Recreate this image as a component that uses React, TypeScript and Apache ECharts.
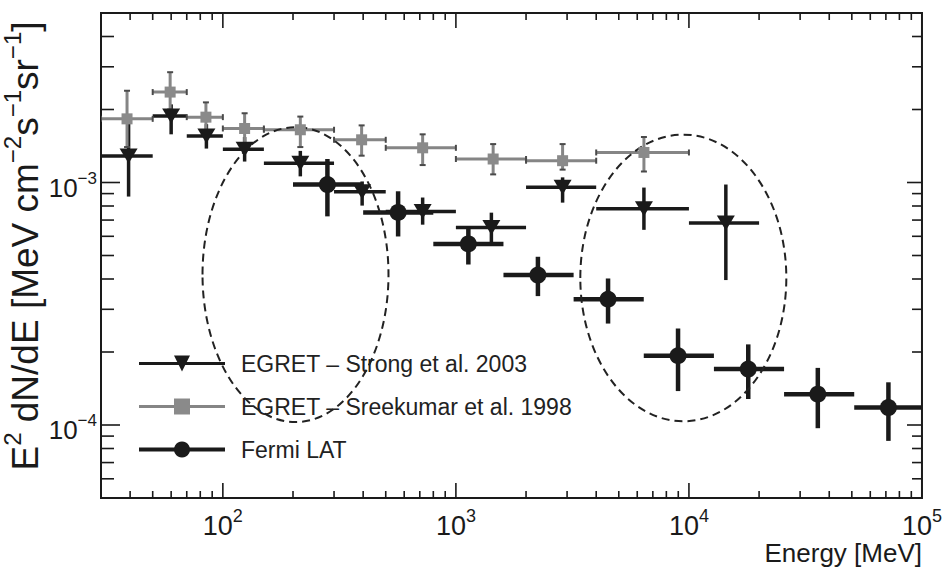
import React, { useEffect, useRef } from 'react';
import * as echarts from 'echarts';

const FONT = '"Liberation Sans", Arial, Helvetica, sans-serif';
const INK = '#1a1a1a';
const GREY = '#858585';

// EGRET – Strong et al. 2003 (MeV, MeV cm^-2 s^-1 sr^-1)
const strongE = [39.4, 60, 85, 124, 215, 396, 720, 1420, 2870, 6410, 14400];
const strongF = [1.285e-3, 1.88e-3, 1.556e-3, 1.37e-3, 1.2e-3, 9.15e-4, 7.6e-4, 6.52e-4, 9.56e-4, 7.8e-4, 6.8e-4];
const strongElo = [30, 50, 70, 100, 150, 300, 500, 1000, 2000, 4000, 10000];
const strongEhi = [50, 70, 100, 150, 300, 500, 1000, 2000, 4000, 10000, 20000];
const strongFlo = [8.75e-4, 1.58e-3, 1.38e-3, 1.22e-3, 1.06e-3, 8.03e-4, 6.7e-4, 5.53e-4, 8.26e-4, 6.38e-4, 3.96e-4];
const strongFhi = [1.85e-3, 2.1e-3, 1.74e-3, 1.54e-3, 1.35e-3, 1.01e-3, 8.67e-4, 7.51e-4, 1.05e-3, 9.53e-4, 9.81e-4];

// EGRET – Sreekumar et al. 1998
const sreeE = [38.8, 59.4, 84.6, 124, 215, 394, 720, 1445, 2870, 6410];
const sreeF = [1.83e-3, 2.36e-3, 1.86e-3, 1.67e-3, 1.65e-3, 1.5e-3, 1.39e-3, 1.25e-3, 1.23e-3, 1.33e-3];
const sreeElo = [30, 50, 70, 100, 150, 300, 500, 1000, 2000, 4000];
const sreeEhi = [50, 70, 100, 150, 300, 500, 1000, 2000, 4000, 10000];
const sreeFlo = [1.4e-3, 2.0e-3, 1.61e-3, 1.44e-3, 1.4e-3, 1.29e-3, 1.18e-3, 1.08e-3, 1.13e-3, 1.11e-3];
const sreeFhi = [2.39e-3, 2.85e-3, 2.14e-3, 1.93e-3, 1.87e-3, 1.72e-3, 1.58e-3, 1.44e-3, 1.44e-3, 1.54e-3];

// Fermi LAT
const fermiE = [281, 565, 1131, 2249, 4497, 8979, 17970, 35730, 71780];
const fermiF = [9.81e-4, 7.53e-4, 5.58e-4, 4.15e-4, 3.3e-4, 1.93e-4, 1.7e-4, 1.34e-4, 1.18e-4];
const fermiElo = [200, 400, 800, 1600, 3200, 6400, 12800, 25600, 51200];
const fermiEhi = [400, 800, 1600, 3200, 6400, 12800, 25600, 51200, 102400];
const fermiFlo = [7.25e-4, 5.99e-4, 4.59e-4, 3.4e-4, 2.62e-4, 1.38e-4, 1.28e-4, 9.7e-5, 8.6e-5];
const fermiFhi = [1.25e-3, 9.2e-4, 6.51e-4, 4.94e-4, 4.02e-4, 2.5e-4, 2.15e-4, 1.72e-4, 1.5e-4];

// dashed ellipses (centre in data units, half-axes in decades)
const ellipseCenterE = [205, 9460];
const ellipseCenterF = [4.17e-4, 4.04e-4];
const ellipseHalfWidthDec = [0.399, 0.442];
const ellipseHalfHeightDec = [0.608, 0.591];

// tick values
const xMajorTicks = [100, 1000, 10000];
const xMinorTicks = [40, 50, 60, 70, 80, 90, 200, 300, 400, 500, 600, 700, 800, 900,
  2000, 3000, 4000, 5000, 6000, 7000, 8000, 9000, 20000, 30000, 40000, 50000, 60000, 70000, 80000, 90000];
const yMajorTicks = [1e-4, 1e-3];
const yMinorTicks = [6e-5, 7e-5, 8e-5, 9e-5, 2e-4, 3e-4, 4e-4, 5e-4, 6e-4, 7e-4, 8e-4, 9e-4, 2e-3, 3e-3, 4e-3];

const NAME_STRONG = 'EGRET – Strong et al. 2003';
const NAME_SREE = 'EGRET – Sreekumar et al. 1998';
const NAME_FERMI = 'Fermi LAT';

const TRI_DOWN = 'path://M0,0 L16,0 L8,14 Z';

function rows(e: number[], f: number[], elo: number[], ehi: number[], flo: number[], fhi: number[]) {
  return e.map((v, i) => [v, f[i], elo[i], ehi[i], flo[i], fhi[i]]);
}

function powLabel(v: number) {
  const l = Math.log10(v);
  const e = Math.round(l);
  if (Math.abs(l - e) > 1e-6) return '';
  return '{b|10}{s|' + (e < 0 ? '\u2212' + -e : String(e)) + '}';
}

function errorBarSeries(name: string, data: number[][], color: string, width: number, cap: boolean) {
  return {
    type: 'custom',
    name,
    data,
    clip: true,
    z: 2,
    silent: true,
    encode: { x: [0, 2, 3], y: [1, 4, 5] },
    renderItem: (params: any, api: any) => {
      const x = api.value(0);
      const y = api.value(1);
      const a = api.coord([api.value(2), y]);
      const b = api.coord([api.value(3), y]);
      const c = api.coord([x, api.value(4)]);
      const d = api.coord([x, api.value(5)]);
      const style = { stroke: color, lineWidth: width, fill: 'none' };
      const children: any[] = [
        { type: 'line', shape: { x1: a[0], y1: a[1], x2: b[0], y2: b[1] }, style },
        { type: 'line', shape: { x1: c[0], y1: c[1], x2: d[0], y2: d[1] }, style },
      ];
      if (cap) {
        const cs = { stroke: '#4a4a4a', lineWidth: 2 };
        const h = 3;
        children.push(
          { type: 'line', shape: { x1: a[0], y1: a[1] - h, x2: a[0], y2: a[1] + h }, style: cs },
          { type: 'line', shape: { x1: b[0], y1: b[1] - h, x2: b[0], y2: b[1] + h }, style: cs },
          { type: 'line', shape: { x1: c[0] - h, y1: c[1], x2: c[0] + h, y2: c[1] }, style: cs },
          { type: 'line', shape: { x1: d[0] - h, y1: d[1], x2: d[0] + h, y2: d[1] }, style: cs },
        );
      }
      return { type: 'group', children };
    },
  };
}

function markerSeries(name: string, e: number[], f: number[], symbol: string, size: any, color: string) {
  return {
    type: 'line',
    name,
    data: e.map((v, i) => [v, f[i]]),
    symbol,
    symbolSize: size,
    showSymbol: true,
    showAllSymbol: true,
    lineStyle: { opacity: 0, width: 0 },
    itemStyle: { color, borderWidth: 0 },
    z: 5,
    silent: true,
  };
}

export default function App() {
  const ref = useRef<HTMLDivElement>(null);

  useEffect(() => {
    if (!ref.current) return;
    const chart = echarts.init(ref.current, null, { renderer: 'svg' });

    const xTickData = [
      ...xMajorTicks.map((v) => [v, 1e-3, 1]),
      ...xMinorTicks.map((v) => [v, 1e-3, 0]),
    ];
    const yTickData = [
      ...yMajorTicks.map((v) => [1000, v, 1]),
      ...yMinorTicks.map((v) => [1000, v, 0]),
    ];
    const ellipseData = ellipseCenterE.map((v, i) => [v, ellipseCenterF[i], ellipseHalfWidthDec[i], ellipseHalfHeightDec[i]]);

    const tickStyle = { stroke: INK, lineWidth: 1.6 };

    const option: any = {
      animation: false,
      backgroundColor: '#ffffff',
      textStyle: { fontFamily: FONT, color: INK },
      grid: {
        left: 101, right: 18, top: 13, bottom: 70,
        show: true, borderColor: INK, borderWidth: 2, backgroundColor: 'transparent',
      },
      xAxis: {
        type: 'log', logBase: 10, min: 30, max: 100000,
        axisLine: { show: false }, axisTick: { show: false }, splitLine: { show: false },
        axisLabel: {
          formatter: powLabel, margin: 4, color: INK,
          rich: {
            b: { fontSize: 27, fontFamily: FONT, color: INK, padding: [10, 0, 0, 0], verticalAlign: 'bottom' },
            s: { fontSize: 18, fontFamily: FONT, color: INK, padding: [5, 0, 0, 0], verticalAlign: 'top' },
          },
        },
        name: 'Energy [MeV]', nameLocation: 'end', nameGap: 0,
        nameTextStyle: { fontSize: 26, fontFamily: FONT, color: INK, align: 'right', verticalAlign: 'top', padding: [42, 0, 0, 0] },
      },
      yAxis: {
        type: 'log', logBase: 10, min: 5e-5, max: 5e-3,
        axisLine: { show: false }, axisTick: { show: false }, splitLine: { show: false },
        axisLabel: {
          formatter: powLabel, margin: 4, color: INK,
          rich: {
            b: { fontSize: 26, fontFamily: FONT, color: INK, padding: [10, 0, 0, 0], verticalAlign: 'bottom' },
            s: { fontSize: 17, fontFamily: FONT, color: INK, padding: [5, 0, 0, 0], verticalAlign: 'top' },
          },
        },
      },
      legend: {
        orient: 'vertical', left: 137, top: 352, padding: 0,
        itemWidth: 86, itemHeight: 20, itemGap: 20,
        selectedMode: false,
        textStyle: { fontSize: 23, fontFamily: FONT, color: '#222', padding: [0, 0, 0, 11] },
        data: [
          { name: NAME_STRONG, lineStyle: { width: 3, color: INK, opacity: 1 } },
          { name: NAME_SREE, lineStyle: { width: 3, color: GREY, opacity: 1 } },
          { name: NAME_FERMI, lineStyle: { width: 4, color: INK, opacity: 1 } },
        ],
      },
      graphic: [
        {
          type: 'text', x: 22, y: 246, rotation: Math.PI / 2,
          style: {
            text: '{b|E}{s|2}{b| dN/dE [MeV cm}{s|\u22122}{b|s}{s|\u22121}{b|sr}{s|\u22121}{b|]}',
            align: 'center', verticalAlign: 'middle', fill: INK,
            rich: {
              b: { fontSize: 37, fontFamily: FONT, fill: INK, padding: [6, 0, 0, 0], verticalAlign: 'bottom' },
              s: { fontSize: 24, fontFamily: FONT, fill: INK, padding: [0, 0, 0, 0], verticalAlign: 'top' },
            },
          },
        },
      ],
      series: [
        markerSeries(NAME_STRONG, strongE, strongF, TRI_DOWN, [18, 15], INK),
        markerSeries(NAME_SREE, sreeE, sreeF, 'rect', 11, '#8a8a8a'),
        markerSeries(NAME_FERMI, fermiE, fermiF, 'circle', 17, INK),
        errorBarSeries('Strong errors', rows(strongE, strongF, strongElo, strongEhi, strongFlo, strongFhi), INK, 3.5, false),
        errorBarSeries('Sreekumar errors', rows(sreeE, sreeF, sreeElo, sreeEhi, sreeFlo, sreeFhi), GREY, 3, true),
        errorBarSeries('Fermi errors', rows(fermiE, fermiF, fermiElo, fermiEhi, fermiFlo, fermiFhi), INK, 4.5, false),
        {
          type: 'custom', name: 'regions', data: ellipseData, z: 4, silent: true, clip: true,
          encode: { x: 0, y: 1 },
          renderItem: (params: any, api: any) => {
            const ce = api.value(0);
            const cf = api.value(1);
            const c = api.coord([ce, cf]);
            const r = api.coord([ce * Math.pow(10, api.value(2)), cf]);
            const t = api.coord([ce, cf * Math.pow(10, api.value(3))]);
            return {
              type: 'ellipse',
              shape: { cx: c[0], cy: c[1], rx: Math.abs(r[0] - c[0]), ry: Math.abs(c[1] - t[1]) },
              style: { fill: 'none', stroke: '#222', lineWidth: 2, lineDash: [8, 5] },
            };
          },
        },
        {
          type: 'custom', name: 'xticks', data: xTickData, z: 6, silent: true,
          encode: { x: 0, y: 1 },
          renderItem: (params: any, api: any) => {
            const cs = params.coordSys;
            const px = api.coord([api.value(0), api.value(1)])[0];
            const len = api.value(2) === 1 ? 15 : 7;
            const bottom = cs.y + cs.height;
            return {
              type: 'group',
              children: [
                { type: 'line', shape: { x1: px, y1: bottom, x2: px, y2: bottom - len }, style: tickStyle },
                { type: 'line', shape: { x1: px, y1: cs.y, x2: px, y2: cs.y + len }, style: tickStyle },
              ],
            };
          },
        },
        {
          type: 'custom', name: 'yticks', data: yTickData, z: 6, silent: true,
          encode: { x: 0, y: 1 },
          renderItem: (params: any, api: any) => {
            const cs = params.coordSys;
            const py = api.coord([api.value(0), api.value(1)])[1];
            const major = api.value(2) === 1;
            const ll = major ? 19 : 13;
            const lr = major ? 15 : 10;
            const right = cs.x + cs.width;
            return {
              type: 'group',
              children: [
                { type: 'line', shape: { x1: cs.x, y1: py, x2: cs.x + ll, y2: py }, style: tickStyle },
                { type: 'line', shape: { x1: right, y1: py, x2: right - lr, y2: py }, style: tickStyle },
              ],
            };
          },
        },
      ],
    };

    chart.setOption(option);
    return () => chart.dispose();
  }, []);

  return (
    <div
      ref={ref}
      style={{ position: 'fixed', left: 0, top: 0, width: 945, height: 568, background: '#fff' }}
    />
  );
}
